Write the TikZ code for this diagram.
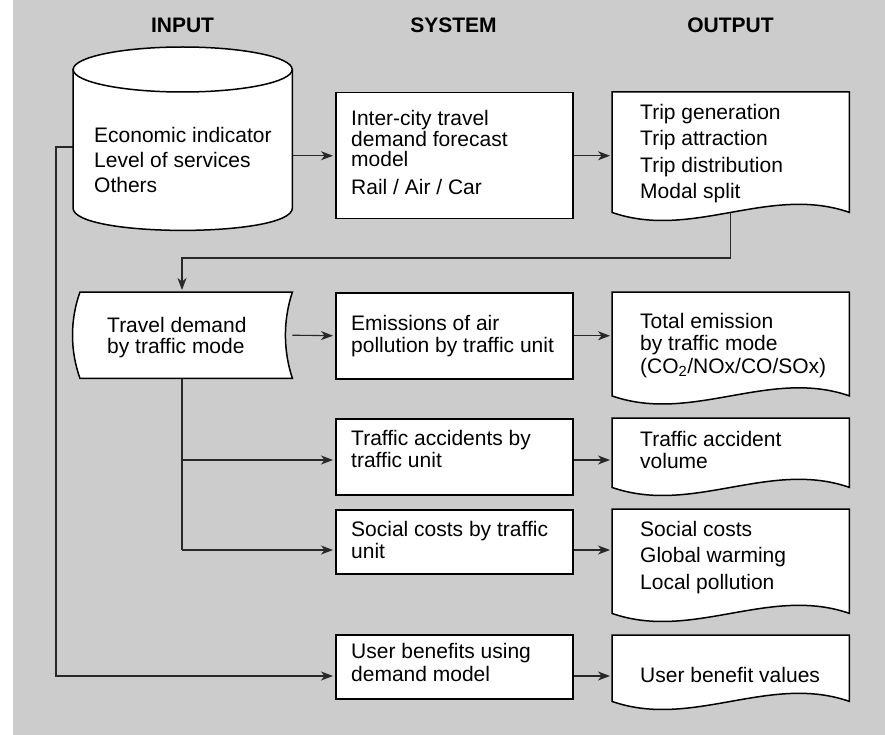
\documentclass[tikz,border=0pt]{standalone}
\usepackage{fontspec}
\setmainfont{Liberation Sans}
\usetikzlibrary{arrows.meta}
\pgfdeclarelayer{back}
\pgfdeclarelayer{conn}
\pgfdeclarelayer{mid}
\pgfsetlayers{back,conn,mid,main}
\definecolor{bggray}{RGB}{204,204,204}
\definecolor{linegray}{RGB}{40,40,40}
\begin{document}
\begin{tikzpicture}[x=1pt,y=-1pt,
  box/.style={draw=black, fill=white, line width=1.5pt, minimum width=237, inner sep=0pt, anchor=north west},
  frame/.style={inner sep=0pt, anchor=north west, minimum width=237, minimum height=#1},
  shapeline/.style={draw=black, fill=white, line width=1.5pt},
  lbl/.style={anchor=base west, align=left, inner sep=0pt, font=\fontsize{21}{#1}\selectfont},
  hdr/.style={anchor=base, inner sep=0pt, font=\bfseries\fontsize{21}{25}\selectfont},
  wire/.style={line width=1.1pt, draw=linegray},
  arr/.style={wire, -{Stealth[length=12pt,width=9pt,inset=3.5pt]}, shorten >=2pt}
]
\useasboundingbox (0,0) rectangle (885,735);
\begin{pgfonlayer}{back}
\fill[bggray] (13,0) rectangle (885,735);
\end{pgfonlayer}

% headers
\node[hdr] (hin) at (182.5,33) {INPUT};
\node[hdr] (hsy) at (453.5,33) {SYSTEM};
\node[hdr] (hout) at (730.5,33) {OUTPUT};

% shape frames
\node[frame=138, minimum width=219] (cyl) at (73,92) {};
\node[box, minimum height=126] (s1) at (335,92) {};
\node[frame=120] (o1) at (612,92) {};
\node[frame=86, minimum width=212] (td) at (80,292) {};
\node[box, minimum height=86] (s2) at (335,292) {};
\node[frame=103.5] (o2) at (612,292) {};
\node[box, minimum height=76] (s3) at (335,418) {};
\node[frame=69] (o3) at (612,418) {};
\node[box, minimum height=64] (s4) at (335,509) {};
\node[frame=104] (o4) at (612,509) {};
\node[box, minimum height=64] (s5) at (335,634) {};
\node[frame=66] (o5) at (612,635) {};

% custom outlines
\begin{pgfonlayer}{mid}
\draw[shapeline] ([yshift=22.5]cyl.north west) -- ([yshift=22.5]cyl.south west)
  .. controls +(0,30) and +(0,30) .. ([yshift=22.5]cyl.south east)
  -- ([yshift=22.5]cyl.north east) -- cycle;
\draw[shapeline] ([yshift=22.5]cyl.north) ellipse [x radius=109.5, y radius=22.5];
\foreach \d in {o1,o2,o3,o4,o5}{
  \draw[shapeline] (\d.north west) -- (\d.north east) -- (\d.south east)
    .. controls +(-80,-28) and +(80,28) .. (\d.south west) -- cycle;
}
\draw[shapeline] (td.north west) -- (td.north east)
  .. controls +(-9.3,28) and +(-9.3,-28) .. (td.south east)
  -- (td.south west)
  .. controls +(-10,-28) and +(-10,28) .. (td.north west) -- cycle;
\end{pgfonlayer}

% texts (anchored at the baseline of the last line)
\node[lbl=24.7] (tc) at (94,192.4) {Economic indicator\\Level of services\\Others};
\node[lbl=20.5] (t1) at (351,194.3) {Inter-city travel\\demand forecast\\model\\[6.8pt]Rail / Air / Car};
\node[lbl=26.5] (u1) at (640,198.8) {Trip generation\\Trip attraction\\Trip distribution\\Modal split};
\node[lbl=20.6] (ttd) at (107,353.3) {Travel demand\\by traffic mode};
\node[lbl=22] (t2) at (351,352) {Emissions of air\\pollution by traffic unit};
\node[lbl=22.5] (u2) at (640,373) {Total emission\\by traffic mode\\(CO\textsubscript{2}/NOx/CO/SOx)};
\node[lbl=22] (t3) at (351,467) {Traffic accidents by\\traffic unit};
\node[lbl=21.6] (u3) at (640,468.3) {Traffic accident\\volume};
\node[lbl=22] (t4) at (351,558) {Social costs by traffic\\unit};
\node[lbl=26.5] (u4) at (640,589) {Social costs\\Global warming\\Local pollution};
\node[lbl=23] (t5) at (351,681) {User benefits using\\demand model};
\node[lbl=22] (u5) at (640,682) {User benefit values};

% junction coordinates
\coordinate (b2) at (182,258);
\coordinate (j3) at (182,460);
\coordinate (j4) at (182,550);
\coordinate (c5) at (56,147);
\coordinate (j5) at (56,676);

\begin{pgfonlayer}{conn}
\draw[arr] (s1.west -| cyl.east) -- (s1.west);
\draw[arr] (s1.east) -- (s1.east -| o1.west);
\draw[arr] (o1.south) -- (o1.south |- b2) -- (b2) -- (b2 |- td.north);
\draw[arr] (td.east) -- (s2.west);
\draw[arr] (s2.east) -- (s2.east -| o2.west);
\draw[wire] (td.south -| j3) -- (j4);
\draw[arr] (j3) -- (j3 -| s3.west);
\draw[arr] (j4) -- (j4 -| s4.west);
\draw[arr] (s3.east |- j3) -- (o3.west |- j3);
\draw[arr] (s4.east |- j4) -- (o4.west |- j4);
\draw[arr] (cyl.west |- c5) -- (c5) -- (j5) -- (j5 -| s5.west);
\draw[arr] (s5.east |- j5) -- (o5.west |- j5);
\end{pgfonlayer}
\end{tikzpicture}
\end{document}
